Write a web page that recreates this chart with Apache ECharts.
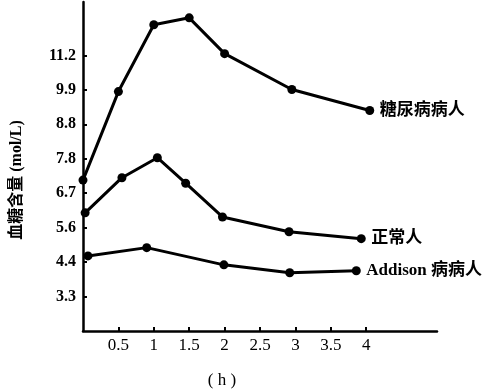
<!DOCTYPE html>
<html>
<head>
<meta charset="utf-8">
<script src="https://cdn.jsdelivr.net/npm/echarts@6/dist/echarts.min.js"></script>
<style>html,body{margin:0;padding:0;background:#fff}#c{width:489px;height:390px}</style>
</head>
<body>
<div id="c"></div>
<script>
// time in hours
var xTicks = [0.5, 1, 1.5, 2, 2.5, 3, 3.5, 4];
var xTickLabels = ['0.5', '1', '1.5', '2', '2.5', '3', '3.5', '4'];
// y scale positions (evenly spaced) and the printed labels
var yTicks = [60, 80, 100, 120, 140, 160, 180, 200];
var yTickLabels = ['3.3', '4.4', '5.6', '6.7', '7.8', '8.8', '9.9', '11.2'];

var seriesNames = ['糖尿病病人', '正常人', 'Addison 病病人'];
var diabetesX = [0, 0.5, 1.0, 1.5, 2.0, 2.95, 4.05];
var diabetesY = [127.6, 179, 217.8, 221.8, 201, 180.2, 168];
var normalX = [0.03, 0.55, 1.05, 1.45, 1.97, 2.91, 3.93];
var normalY = [108.6, 129, 140.6, 125.8, 106.2, 97.6, 93.6];
var addisonX = [0.07, 0.9, 1.99, 2.92, 3.86];
var addisonY = [83.6, 88.4, 78.4, 73.8, 75];

function pairs(xs, ys) { return xs.map(function (x, i) { return [x, ys[i]]; }); }

var serif = '"Liberation Serif", "DejaVu Serif", serif';
var cjk = '"Liberation Serif", "Noto Sans CJK SC", sans-serif';

function mkSeries(name, data) {
  return {
    name: name,
    type: 'line',
    data: data,
    symbol: 'circle',
    symbolSize: 9,
    itemStyle: { color: '#000' },
    lineStyle: { color: '#000', width: 3 },
    endLabel: {
      show: true,
      formatter: '{a}',
      distance: 10,
      color: '#000',
      fontSize: 17,
      fontWeight: 'bold',
      fontFamily: cjk
    },
    animation: false
  };
}

var chart = echarts.init(document.getElementById('c'));
chart.setOption({
  backgroundColor: '#fff',
  animation: false,
  grid: { left: 83, right: 52, top: 2, bottom: 59, containLabel: false },
  xAxis: {
    type: 'value',
    min: 0,
    max: 5,
    splitLine: { show: false },
    axisLine: { show: true, onZero: false, lineStyle: { color: '#000', width: 2.5 } },
    axisTick: { show: true, inside: true, length: 4, lineStyle: { color: '#000', width: 2 }, customValues: xTicks },
    axisLabel: {
      customValues: xTicks,
      margin: 6,
      color: '#000',
      fontSize: 17,
      fontFamily: serif,
      formatter: function (v) { var i = xTicks.indexOf(v); return i >= 0 ? xTickLabels[i] : ''; }
    }
  },
  yAxis: {
    type: 'value',
    min: 40,
    max: 231,
    splitLine: { show: false },
    axisLine: { show: true, onZero: false, lineStyle: { color: '#000', width: 2.5 } },
    axisTick: { show: true, inside: true, length: 4, lineStyle: { color: '#000', width: 2 }, customValues: yTicks },
    axisLabel: {
      customValues: yTicks,
      margin: 7,
      color: '#000',
      fontSize: 16,
      fontWeight: 'bold',
      fontFamily: serif,
      formatter: function (v) { var i = yTicks.indexOf(v); return i >= 0 ? yTickLabels[i] : ''; }
    }
  },
  graphic: [
    {
      type: 'text',
      x: 17, y: 180,
      rotation: Math.PI / 2,
      style: {
        text: '血糖含量 (mol/L)',
        font: 'bold 16px "Liberation Serif", "Noto Sans CJK SC", sans-serif',
        fill: '#000',
        align: 'center',
        verticalAlign: 'middle'
      }
    },
    {
      type: 'text',
      x: 222, y: 381,
      style: {
        text: '( h )',
        font: '17px "Liberation Serif", serif',
        fill: '#000',
        align: 'center',
        verticalAlign: 'middle'
      }
    }
  ],
  series: [
    mkSeries(seriesNames[0], pairs(diabetesX, diabetesY)),
    mkSeries(seriesNames[1], pairs(normalX, normalY)),
    mkSeries(seriesNames[2], pairs(addisonX, addisonY))
  ]
});
</script>
</body>
</html>
